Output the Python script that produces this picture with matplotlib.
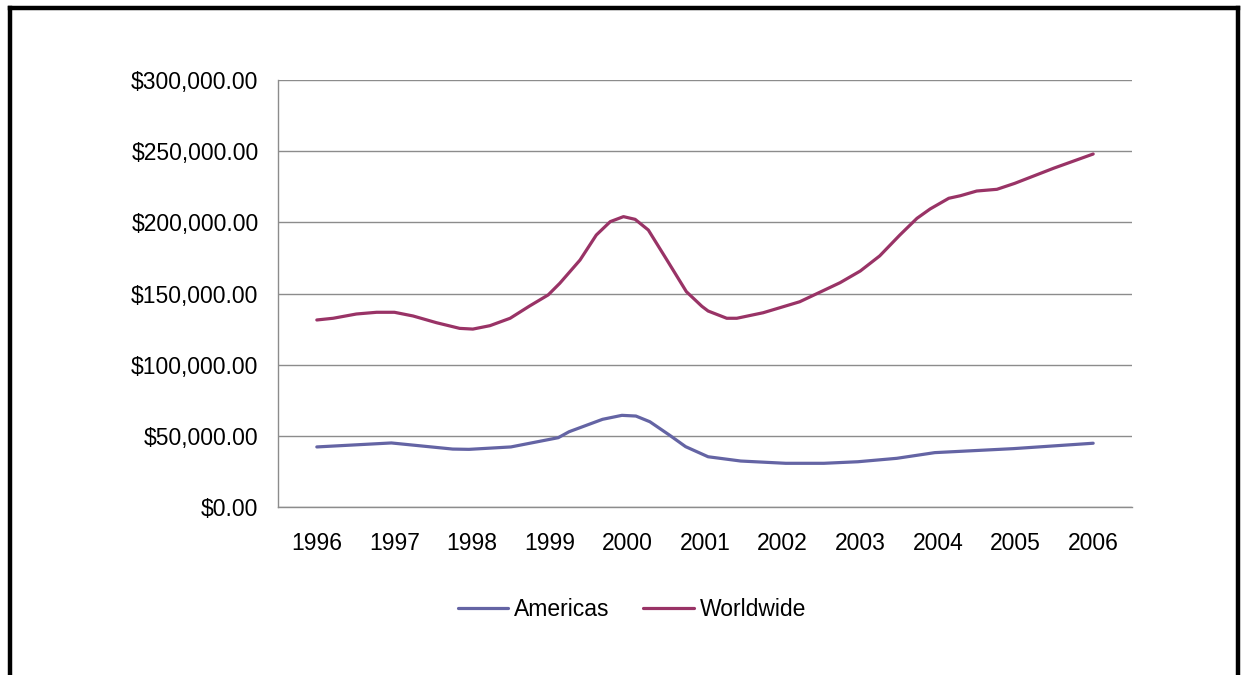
import matplotlib
matplotlib.use("Agg")
import matplotlib.pyplot as plt
from matplotlib.lines import Line2D
from matplotlib.ticker import FuncFormatter, MultipleLocator

plt.rcParams['font.family'] = ['Liberation Sans', 'DejaVu Sans']

years = ['1996', '1997', '1998', '1999', '2000', '2001', '2002', '2003', '2004', '2005', '2006']

# positions in years since 1996
world_x = [0.00, 0.21, 0.51, 0.77, 1.00, 1.24, 1.54, 1.84, 2.01, 2.23, 2.49, 2.74, 2.98,
           3.13, 3.39, 3.60, 3.78, 3.95, 4.10, 4.27, 4.51, 4.76, 4.96, 5.04, 5.28, 5.41,
           5.75, 6.22, 6.74, 7.00, 7.25, 7.51, 7.73, 7.90, 8.14, 8.29, 8.50, 8.76, 8.99,
           9.49, 10.00]
world_y = [131400, 132600, 135600, 136800, 136800, 134200, 129500, 125500, 125000, 127400,
           132600, 141200, 149000, 157200, 173500, 191100, 200500, 204000, 202100, 194600,
           173500, 151300, 141000, 137700, 132600, 132600, 136500, 144200, 157600, 165800,
           176400, 191100, 202800, 209400, 216900, 218700, 222000, 223200, 227400, 238000,
           248000]

amer_x = [0.00, 0.96, 1.75, 1.96, 2.50, 3.11, 3.25, 3.68, 3.93, 4.11, 4.29, 4.54, 4.75,
          5.04, 5.46, 6.04, 6.53, 6.97, 7.47, 7.96, 8.97, 10.00]
amer_y = [42200, 45000, 40700, 40500, 42200, 48700, 52900, 61600, 64400, 63900, 59900,
          50600, 42400, 35300, 32300, 30700, 30700, 31800, 34200, 38200, 41000, 44800]

W, H = 1243, 675
fig = plt.figure(figsize=(W / 100, H / 100), dpi=100)
fig.patch.set_facecolor('white')
ax = fig.add_axes([278 / W, 1 - 507 / H, (1132 - 278) / W, (507 - 80) / H])

l1, = ax.plot(amer_x, amer_y, color='#6464A4', lw=2.3, solid_joinstyle='round',
              solid_capstyle='round', label='Americas', zorder=3)
l2, = ax.plot(world_x, world_y, color='#993366', lw=2.3, solid_joinstyle='round',
              solid_capstyle='round', label='Worldwide', zorder=3)

ax.set_xlim(-0.5, 10.5)
ax.set_ylim(0, 300000)
ax.set_xticks(range(len(years)))
ax.set_xticklabels(years)
ax.yaxis.set_major_locator(MultipleLocator(50000))
ax.yaxis.set_major_formatter(FuncFormatter(lambda v, p: f"${v:,.2f}"))
ax.tick_params(axis='both', length=0, labelsize=16.5, colors='black')
ax.tick_params(axis='y', pad=14)
ax.tick_params(axis='x', pad=18)
ax.grid(axis='y', color='#8c8c8c', lw=1)
ax.set_axisbelow(True)
for s in ['top', 'right']:
    ax.spines[s].set_visible(False)
for s in ['left', 'bottom']:
    ax.spines[s].set_color('#8c8c8c')
    ax.spines[s].set_linewidth(1)

leg = fig.legend(handles=[l1, l2], loc='center', bbox_to_anchor=(632 / W, 1 - 610 / H),
                 ncol=2, frameon=False, fontsize=16.5, handlelength=2.2, handletextpad=0.26,
                 columnspacing=1.45)

# outer border (top, left, right)
fig.add_artist(Line2D([10 / W, 10 / W], [0, 1 - 8 / H], color='black', lw=3.2,
                      transform=fig.transFigure))
fig.add_artist(Line2D([1238 / W, 1238 / W], [0, 1 - 8 / H], color='black', lw=3.2,
                      transform=fig.transFigure))
fig.add_artist(Line2D([10 / W, 1238 / W], [1 - 8 / H, 1 - 8 / H], color='black', lw=3.2,
                      transform=fig.transFigure, solid_capstyle='projecting'))

fig.savefig('out.png', dpi=100)
